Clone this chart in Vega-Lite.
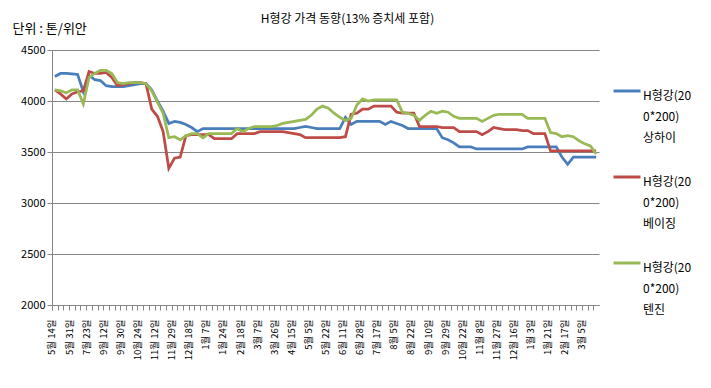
{
  "$schema": "https://vega.github.io/schema/vega-lite/v6.json",
  "width": 547,
  "height": 255,
  "autosize": {"type": "none"},
  "padding": {"left": 52, "top": 50, "right": 112, "bottom": 83},
  "background": "white",
  "config": {"font": "Noto Sans CJK KR", "view": {"stroke": null}, "style": {"guide-label": {"lineHeight": 21}}},
  "title": {"text": "H형강 가격 동향(13% 증치세 포함)", "fontSize": 12, "fontWeight": "normal", "color": "black", "anchor": "middle", "dx": 22, "offset": 4, "dy": 8},
  "data": {"values": [
    {"i":0,"상하이":4240,"베이징":4110,"텐진":4110},
    {"i":1,"상하이":4270,"베이징":4070,"텐진":4100},
    {"i":2,"상하이":4270,"베이징":4020,"텐진":4080},
    {"i":3,"상하이":4265,"베이징":4070,"텐진":4110},
    {"i":4,"상하이":4260,"베이징":4090,"텐진":4110},
    {"i":5,"상하이":4090,"베이징":4100,"텐진":3970},
    {"i":6,"상하이":4250,"베이징":4290,"텐진":4230},
    {"i":7,"상하이":4210,"베이징":4270,"텐진":4270},
    {"i":8,"상하이":4200,"베이징":4270,"텐진":4300},
    {"i":9,"상하이":4150,"베이징":4280,"텐진":4300},
    {"i":10,"상하이":4140,"베이징":4230,"텐진":4270},
    {"i":11,"상하이":4140,"베이징":4150,"텐진":4180},
    {"i":12,"상하이":4140,"베이징":4160,"텐진":4170},
    {"i":13,"상하이":4150,"베이징":4170,"텐진":4180},
    {"i":14,"상하이":4160,"베이징":4180,"텐진":4180},
    {"i":15,"상하이":4170,"베이징":4180,"텐진":4180},
    {"i":16,"상하이":4170,"베이징":4170,"텐진":4170},
    {"i":17,"상하이":4110,"베이징":3920,"텐진":4100},
    {"i":18,"상하이":4000,"베이징":3850,"텐진":3990},
    {"i":19,"상하이":3900,"베이징":3700,"텐진":3880},
    {"i":20,"상하이":3780,"베이징":3340,"텐진":3640},
    {"i":21,"상하이":3800,"베이징":3440,"텐진":3650},
    {"i":22,"상하이":3790,"베이징":3450,"텐진":3620},
    {"i":23,"상하이":3770,"베이징":3660,"텐진":3660},
    {"i":24,"상하이":3740,"베이징":3670,"텐진":3680},
    {"i":25,"상하이":3700,"베이징":3670,"텐진":3680},
    {"i":26,"상하이":3730,"베이징":3670,"텐진":3640},
    {"i":27,"상하이":3730,"베이징":3670,"텐진":3680},
    {"i":28,"상하이":3730,"베이징":3630,"텐진":3680},
    {"i":29,"상하이":3730,"베이징":3630,"텐진":3680},
    {"i":30,"상하이":3730,"베이징":3630,"텐진":3680},
    {"i":31,"상하이":3730,"베이징":3630,"텐진":3680},
    {"i":32,"상하이":3730,"베이징":3680,"텐진":3730},
    {"i":33,"상하이":3730,"베이징":3680,"텐진":3700},
    {"i":34,"상하이":3730,"베이징":3680,"텐진":3730},
    {"i":35,"상하이":3730,"베이징":3680,"텐진":3750},
    {"i":36,"상하이":3730,"베이징":3700,"텐진":3750},
    {"i":37,"상하이":3730,"베이징":3700,"텐진":3750},
    {"i":38,"상하이":3730,"베이징":3700,"텐진":3750},
    {"i":39,"상하이":3730,"베이징":3700,"텐진":3760},
    {"i":40,"상하이":3730,"베이징":3700,"텐진":3780},
    {"i":41,"상하이":3730,"베이징":3690,"텐진":3790},
    {"i":42,"상하이":3730,"베이징":3680,"텐진":3800},
    {"i":43,"상하이":3740,"베이징":3670,"텐진":3810},
    {"i":44,"상하이":3750,"베이징":3640,"텐진":3820},
    {"i":45,"상하이":3740,"베이징":3640,"텐진":3860},
    {"i":46,"상하이":3730,"베이징":3640,"텐진":3920},
    {"i":47,"상하이":3730,"베이징":3640,"텐진":3950},
    {"i":48,"상하이":3730,"베이징":3640,"텐진":3930},
    {"i":49,"상하이":3730,"베이징":3640,"텐진":3880},
    {"i":50,"상하이":3730,"베이징":3640,"텐진":3840},
    {"i":51,"상하이":3840,"베이징":3650,"텐진":3810},
    {"i":52,"상하이":3770,"베이징":3870,"텐진":3830},
    {"i":53,"상하이":3800,"베이징":3880,"텐진":3960},
    {"i":54,"상하이":3800,"베이징":3920,"텐진":4020},
    {"i":55,"상하이":3800,"베이징":3920,"텐진":4000},
    {"i":56,"상하이":3800,"베이징":3950,"텐진":4010},
    {"i":57,"상하이":3800,"베이징":3950,"텐진":4010},
    {"i":58,"상하이":3770,"베이징":3950,"텐진":4010},
    {"i":59,"상하이":3800,"베이징":3950,"텐진":4010},
    {"i":60,"상하이":3780,"베이징":3890,"텐진":4010},
    {"i":61,"상하이":3760,"베이징":3880,"텐진":3890},
    {"i":62,"상하이":3730,"베이징":3880,"텐진":3880},
    {"i":63,"상하이":3730,"베이징":3880,"텐진":3860},
    {"i":64,"상하이":3730,"베이징":3750,"텐진":3810},
    {"i":65,"상하이":3730,"베이징":3750,"텐진":3860},
    {"i":66,"상하이":3730,"베이징":3750,"텐진":3900},
    {"i":67,"상하이":3730,"베이징":3750,"텐진":3880},
    {"i":68,"상하이":3640,"베이징":3740,"텐진":3900},
    {"i":69,"상하이":3620,"베이징":3740,"텐진":3890},
    {"i":70,"상하이":3590,"베이징":3740,"텐진":3850},
    {"i":71,"상하이":3550,"베이징":3700,"텐진":3830},
    {"i":72,"상하이":3550,"베이징":3700,"텐진":3830},
    {"i":73,"상하이":3550,"베이징":3700,"텐진":3830},
    {"i":74,"상하이":3530,"베이징":3700,"텐진":3830},
    {"i":75,"상하이":3530,"베이징":3670,"텐진":3800},
    {"i":76,"상하이":3530,"베이징":3700,"텐진":3830},
    {"i":77,"상하이":3530,"베이징":3740,"텐진":3860},
    {"i":78,"상하이":3530,"베이징":3730,"텐진":3870},
    {"i":79,"상하이":3530,"베이징":3720,"텐진":3870},
    {"i":80,"상하이":3530,"베이징":3720,"텐진":3870},
    {"i":81,"상하이":3530,"베이징":3720,"텐진":3870},
    {"i":82,"상하이":3530,"베이징":3710,"텐진":3870},
    {"i":83,"상하이":3550,"베이징":3710,"텐진":3830},
    {"i":84,"상하이":3550,"베이징":3680,"텐진":3830},
    {"i":85,"상하이":3550,"베이징":3680,"텐진":3830},
    {"i":86,"상하이":3550,"베이징":3680,"텐진":3830},
    {"i":87,"상하이":3550,"베이징":3510,"텐진":3690},
    {"i":88,"상하이":3550,"베이징":3510,"텐진":3680},
    {"i":89,"상하이":3450,"베이징":3510,"텐진":3650},
    {"i":90,"상하이":3380,"베이징":3510,"텐진":3660},
    {"i":91,"상하이":3450,"베이징":3510,"텐진":3650},
    {"i":92,"상하이":3450,"베이징":3510,"텐진":3610},
    {"i":93,"상하이":3450,"베이징":3510,"텐진":3580},
    {"i":94,"상하이":3450,"베이징":3510,"텐진":3560},
    {"i":95,"상하이":3450,"베이징":3510,"텐진":3480}
  ]},
  "transform": [{"fold": ["상하이", "베이징", "텐진"], "as": ["city", "price"]}],
  "mark": {"type": "line", "strokeWidth": 2.75},
  "encoding": {
    "x": {
      "field": "i", "type": "quantitative",
      "scale": {"domain": [-0.5, 95.5], "nice": false, "zero": false},
      "axis": {
        "title": null, "grid": false, "orient": "bottom",
        "values": [0,1,2,3,4,5,6,7,8,9,10,11,12,13,14,15,16,17,18,19,20,21,22,23,24,25,26,27,28,29,30,31,32,33,34,35,36,37,38,39,40,41,42,43,44,45,46,47,48,49,50,51,52,53,54,55,56,57,58,59,60,61,62,63,64,65,66,67,68,69,70,71,72,73,74,75,76,77,78,79,80,81,82,83,84,85,86,87,88,89,90,91,92,93,94,95],
        "labelExpr": "datum.value % 3 == 0 ? ['5월 14일','5월 31일','7월 23일','9월 12일','9월 30일','10월 24일','11월 12일','11월 29일','12월 18일','1월 7일','1월 24일','2월 18일','3월 7일','3월 26일','4월 15일','5월 5일','5월 22일','6월 11일','6월 28일','7월 17일','8월 5일','8월 22일','9월 10일','9월 29일','10월 22일','11월 8일','11월 27일','12월 16일','1월 3일','1월 21일','2월 17일','3월 5일'][datum.value / 3] : ''",
        "labelAngle": -90, "labelFontSize": 9.5, "labelColor": "black", "labelOverlap": false, "labelBound": false, "labelFlush": false, "labelPadding": 9,
        "tickOffset": -2.85, "tickSize": 5, "tickColor": "#868686", "domainColor": "#868686"
      }
    },
    "y": {
      "field": "price", "type": "quantitative",
      "scale": {"domain": [2000, 4500], "nice": false, "zero": false},
      "axis": {
        "values": [2000, 2500, 3000, 3500, 4000, 4500], "format": "d",
        "grid": true, "gridColor": "#868686", "domainColor": "#868686", "tickColor": "#868686", "tickSize": 5,
        "labelFontSize": 11, "labelColor": "black", "labelPadding": 2,
        "title": "단위 : 톤/위안", "titleAngle": 0, "titleX": -40, "titleY": -22, "titleAlign": "left", "titleBaseline": "middle", "titleFontSize": 13, "titleFontWeight": "normal", "titleColor": "black"
      }
    },
    "color": {
      "field": "city", "type": "nominal",
      "scale": {"domain": ["상하이", "베이징", "텐진"], "range": ["#4A7EBB", "#BE4B48", "#98B954"]},
      "legend": {
        "title": null, "orient": "none", "legendX": 560, "legendY": 26, "padding": 0,
        "symbolType": "stroke", "symbolSize": 729, "symbolStrokeWidth": 3,
        "labelExpr": "['H형강(20', '0*200)', datum.label]",
        "labelFontSize": 12, "labelBaseline": "top", "labelColor": "black", "labelLimit": 0, "labelOffset": 1,
        "rowPadding": 18
      }
    }
  }
}
